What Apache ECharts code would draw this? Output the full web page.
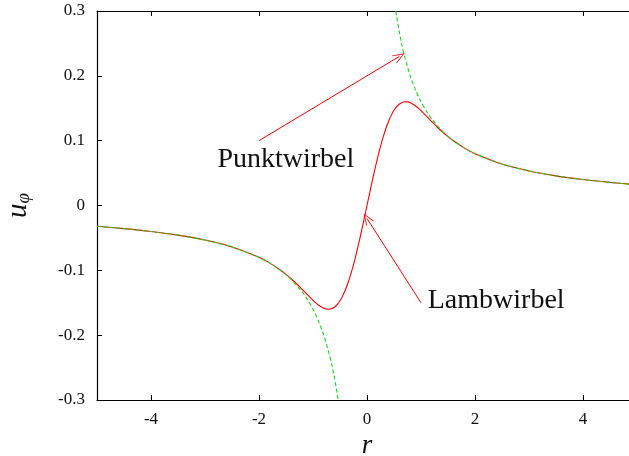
<!DOCTYPE html>
<html>
<head>
<meta charset="utf-8">
<script src="https://cdn.jsdelivr.net/npm/echarts@6/dist/echarts.min.js"></script>
<style>
html,body{margin:0;padding:0;background:#fff;}
#chart{width:629px;height:456px;}
</style>
</head>
<body>
<div id="chart"></div>
<script>
// Lamb vortex (red solid)
var lambR = [-5,-4.5,-4,-3.5,-3,-2.5,-2,-1.8,-1.6,-1.5,-1.4,-1.3,-1.2,-1.1,-1,-0.95,-0.9,-0.85,-0.8,-0.75,-0.7,-0.65,-0.6,-0.55,-0.5,-0.45,-0.4,-0.35,-0.3,-0.25,-0.2,-0.15,-0.1,-0.05,0,
  0.05,0.1,0.15,0.2,0.25,0.3,0.35,0.4,0.45,0.5,0.55,0.6,0.65,0.7,0.75,0.8,0.85,0.9,0.95,1,1.1,1.2,1.3,1.4,1.5,1.6,1.8,2,2.5,3,3.5,4,4.5,5];
var lambU = [-0.0320,-0.0356,-0.0400,-0.0457,-0.0533,-0.0640,-0.0800,-0.0889,-0.0998,-0.1062,-0.1134,-0.1211,-0.1295,-0.1380,-0.1463,-0.1501,-0.1535,-0.1563,-0.1585,-0.1598,-0.1600,-0.1590,-0.1566,-0.1526,-0.1469,-0.1394,-0.1300,-0.1188,-0.1058,-0.0911,-0.0749,-0.0574,-0.0388,-0.0196,0,
  0.0196,0.0388,0.0574,0.0749,0.0911,0.1058,0.1188,0.1300,0.1394,0.1469,0.1526,0.1566,0.1590,0.1600,0.1598,0.1585,0.1563,0.1535,0.1501,0.1463,0.1380,0.1295,0.1211,0.1134,0.1062,0.0998,0.0889,0.0800,0.0640,0.0533,0.0457,0.0400,0.0356,0.0320];
// Point vortex (green dashed), positive and negative branch
var punktRpos = [0.533,0.55,0.6,0.65,0.7,0.8,0.9,1.0,1.1,1.2,1.4,1.6,1.8,2.0,2.5,3,3.5,4,4.5,5];
var punktUpos = [0.300,0.291,0.267,0.246,0.229,0.200,0.178,0.160,0.1455,0.1333,0.1143,0.1000,0.0889,0.0800,0.0640,0.0533,0.0457,0.0400,0.0356,0.0320];
var punktRneg = [-5,-4.5,-4,-3.5,-3,-2.5,-2.0,-1.8,-1.6,-1.4,-1.2,-1.1,-1.0,-0.9,-0.8,-0.7,-0.65,-0.6,-0.55,-0.533];
var punktUneg = [-0.0320,-0.0356,-0.0400,-0.0457,-0.0533,-0.0640,-0.0800,-0.0889,-0.1000,-0.1143,-0.1333,-0.1455,-0.160,-0.178,-0.200,-0.229,-0.246,-0.267,-0.291,-0.300];
// ticks
var xTicks = [-4,-2,0,2,4];
var yTicks = [-0.3,-0.2,-0.1,0,0.1,0.2,0.3];
var yTickLabels = ['-0.3','-0.2','-0.1','0','0.1','0.2','0.3'];
// annotations
var labelNames = ['Punktwirbel','Lambwirbel'];
var labelPos = [[-2.77,0.07],[1.125,-0.146]];
var arrowFrom = [[-2,0.1],[1,-0.15]];
var arrowTo = [[0.6,0.23],[0,-0.02]];

function pairs(a,b){return a.map(function(v,i){return [v,b[i]];});}

var FONT = '"Liberation Serif", "DejaVu Serif", serif';
var chevron = 'path://M0,0L-5,12L-4.2,12.4L0,2.2L4.2,12.4L5,12Z';

var chart = echarts.init(document.getElementById('chart'), null, {renderer:'canvas'});
chart.setOption({
  animation:false,
  backgroundColor:'#fff',
  grid:{left:97, top:11, width:540, bottom:56, containLabel:false, outerBoundsMode:'none'},
  xAxis:[{
    type:'value', min:-5, max:5, position:'bottom',
    axisLine:{show:true,onZero:false,lineStyle:{color:'#000',width:1.2}},
    axisTick:{show:true,inside:true,length:5,customValues:xTicks,lineStyle:{color:'#000'}},
    axisLabel:{show:true,customValues:xTicks,margin:11,fontFamily:FONT,fontSize:17,color:'#111'},
    splitLine:{show:false},
    name:'r', nameLocation:'middle', nameGap:30,
    nameTextStyle:{fontFamily:FONT,fontStyle:'italic',fontSize:27,color:'#111'}
  },{
    type:'value', min:-5, max:5, position:'top',
    axisLine:{show:true,onZero:false,lineStyle:{color:'#000',width:1.2}},
    axisTick:{show:true,inside:true,length:5,customValues:xTicks,lineStyle:{color:'#000'}},
    axisLabel:{show:false},
    splitLine:{show:false}
  }],
  yAxis:[{
    type:'value', min:-0.3, max:0.3, interval:0.1, position:'left',
    axisLine:{show:true,onZero:false,lineStyle:{color:'#000',width:1.2}},
    axisTick:{show:true,inside:true,length:5,lineStyle:{color:'#000'}},
    axisLabel:{margin:12,fontFamily:FONT,fontSize:17,color:'#111',
      formatter:function(v){
        for(var i=0;i<yTicks.length;i++){ if(Math.abs(yTicks[i]-v)<1e-9) return yTickLabels[i]; }
        return '';
      }},
    splitLine:{show:false},
    name:'{u|u}{s|φ}', nameLocation:'middle', nameGap:64,
    nameTextStyle:{
      rich:{
        u:{fontFamily:FONT,fontStyle:'italic',fontSize:29,color:'#111',verticalAlign:'bottom'},
        s:{fontFamily:FONT,fontStyle:'italic',fontSize:19,color:'#111',verticalAlign:'bottom'}
      }
    }
  }],
  series:[{
    name:'Lambwirbel', type:'line', data:pairs(lambR,lambU),
    showSymbol:false, smooth:0.25, clip:true,
    lineStyle:{color:'#ff0000',width:1.1},
    markLine:{
      silent:true, animation:false,
      symbol:['none',chevron], symbolSize:[9,12],
      lineStyle:{color:'#ff0000',width:1,type:'solid'},
      label:{show:false},
      data: arrowFrom.map(function(f,i){return [{coord:f},{coord:arrowTo[i]}];})
    },
    markPoint:{
      silent:true, animation:false, symbol:'circle', symbolSize:0,
      label:{show:true,position:'right',distance:0,formatter:'{b}',fontFamily:FONT,fontSize:28,color:'#111'},
      data: labelNames.map(function(n,i){return {name:n, coord:labelPos[i]};})
    }
  },{
    name:'Punktwirbel+', type:'line', data:pairs(punktRpos,punktUpos),
    showSymbol:false, smooth:0.25, clip:true,
    lineStyle:{color:'#11dd11',width:1.1,type:[4,2.5]}
  },{
    name:'Punktwirbel-', type:'line', data:pairs(punktRneg,punktUneg),
    showSymbol:false, smooth:0.25, clip:true,
    lineStyle:{color:'#11dd11',width:1.1,type:[4,2.5]}
  }]
});
</script>
</body>
</html>
